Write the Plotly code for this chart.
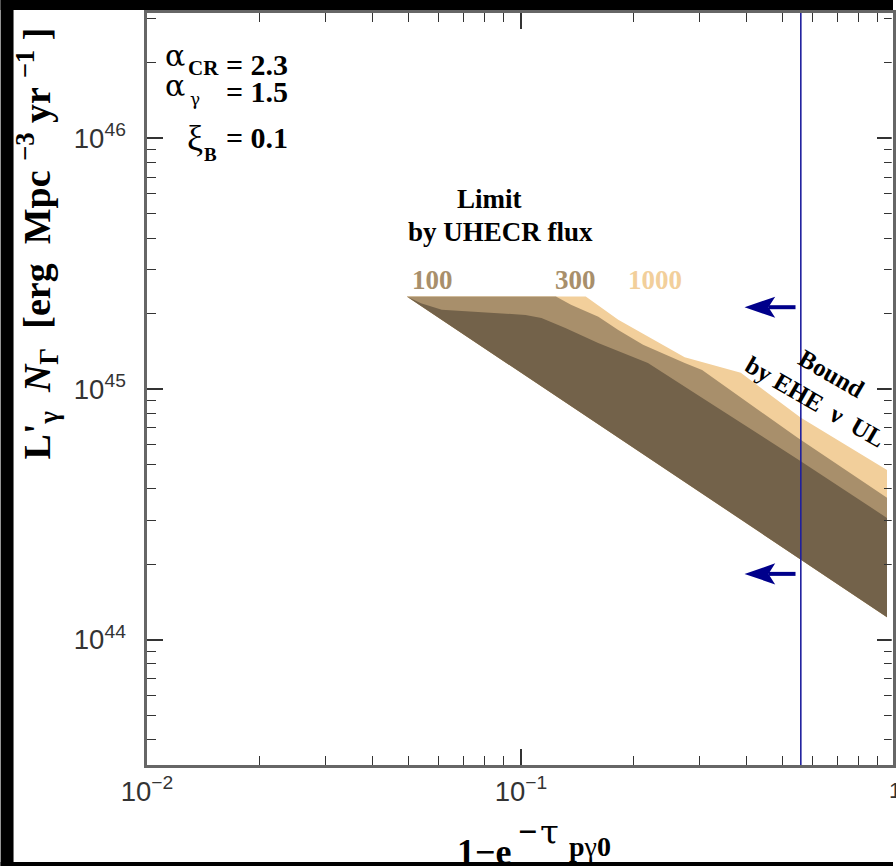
import numpy as np
import plotly.graph_objects as go

# Axis ranges (decades)
x_range_log = [-2.0, -0.00533]
y_range_log = [43.5, 46.5]

# Lower (common) edge of the allowed region
lower_x = [0.0495, 0.952]
lower_y = [2.34e45, 1.23e44]

# Upper edges of the UHECR-flux limit for each case
top_1000_x = [0.0495, 0.149, 0.182, 0.274, 0.387, 0.559, 0.952]
top_1000_y = [2.34e45, 2.34e45, 1.89e45, 1.34e45, 1.16e45, 7.7e44, 4.75e44]

top_300_x = [0.0495, 0.124, 0.136, 0.161, 0.182, 0.212, 0.274, 0.305, 0.548, 0.952]
top_300_y = [2.34e45, 2.34e45, 2.17e45, 1.94e45, 1.72e45, 1.50e45, 1.27e45, 1.19e45, 6.4e44, 3.68e44]

top_100_x = [0.0495, 0.054, 0.0614, 0.1028, 0.1134, 0.1314, 0.1608, 0.2185, 0.3025, 0.5585, 0.952]
top_100_y = [2.34e45, 2.20e45, 2.07e45, 1.975e45, 1.92e45, 1.75e45, 1.527e45, 1.27e45, 9.3e44, 5.16e44, 3.06e44]

band_labels = ["100", "300", "1000"]
band_colors = ["#73624A", "#A88F6B", "#F2CF9B"]
label_colors = ["#A88F6B", "#A88F6B", "#F2CF9B"]

# EHE neutrino upper-limit bound
bound_x = 0.56
arrow_y = [2.12e45, 1.83e44]
arrow_tip_x = 0.396
arrow_tail_x = 0.542

# Model parameters shown in the corner
param_symbols = ["α", "α", "ξ"]
param_subs = ["CR", "γ", "B"]
param_values = ["2.3", "1.5", "0.1"]

fig = go.Figure()


def band(top_x, top_y, color):
    xs = list(top_x) + [lower_x[1], lower_x[0]]
    ys = list(top_y) + [lower_y[1], lower_y[0]]
    fig.add_trace(go.Scatter(x=xs, y=ys, mode="lines", fill="toself",
                             fillcolor=color, line=dict(width=0, color=color),
                             hoverinfo="skip", showlegend=False))


band(top_1000_x, top_1000_y, band_colors[2])
band(top_300_x, top_300_y, band_colors[1])
band(top_100_x, top_100_y, band_colors[0])

fig.add_trace(go.Scatter(x=[bound_x, bound_x], y=[10 ** y_range_log[0], 10 ** y_range_log[1]],
                         mode="lines", line=dict(color="#1F1F9E", width=1.6),
                         hoverinfo="skip", showlegend=False))

# Left-pointing arrows: barbed head plus shaft, built in log space
head_len = 0.082   # decades along x
head_half = 0.042  # decades along y
arrow_color = "#00008B"
for ay in arrow_y:
    lt = np.log10(arrow_tip_x)
    ly = np.log10(ay)
    notch = lt + 0.78 * head_len
    hx = [lt, lt + head_len, notch, lt + head_len, lt]
    hy = [ly, ly + head_half, ly, ly - head_half, ly]
    fig.add_trace(go.Scatter(x=10 ** np.array(hx), y=10 ** np.array(hy), mode="lines",
                             fill="toself", fillcolor=arrow_color,
                             line=dict(width=0, color=arrow_color),
                             hoverinfo="skip", showlegend=False))
    fig.add_trace(go.Scatter(x=[10 ** notch, arrow_tail_x], y=[ay, ay], mode="lines",
                             line=dict(width=4, color=arrow_color),
                             hoverinfo="skip", showlegend=False))

axis_common = dict(
    type="log", showline=True, linecolor="#666", linewidth=2.5, mirror="ticks",
    ticks="inside", ticklen=16, tickwidth=1.6, tickcolor="#333",
    showgrid=False, zeroline=False, dtick=1, exponentformat="power",
    tickfont=dict(family="Liberation Sans, Arial", size=22, color="#333"),
    minor=dict(ticks="inside", ticklen=9, tickwidth=1.4, tickcolor="#333",
               dtick="D1", showgrid=False),
)

fig.update_layout(
    width=896, height=866, autosize=False,
    margin=dict(l=147, r=0, t=13, b=101),
    paper_bgcolor="white", plot_bgcolor="white",
    xaxis=dict(range=x_range_log, ticklabelstandoff=1, **axis_common),
    yaxis=dict(range=y_range_log, ticklabelstandoff=14, **axis_common),
    showlegend=False,
)


def px_x(p):
    return (p - 147) / 749.0


def px_y(p):
    return (765 - p) / 752.0


serif = "Liberation Serif, Times New Roman, serif"
greek = "DejaVu Serif, serif"
ann = []


def text_at(cx, cy, text, size, family=serif, color="black", xanchor="center", **kw):
    ann.append(dict(x=px_x(cx), y=px_y(cy), text=text, xanchor=xanchor, yanchor="middle",
                    font=dict(family=family, size=size, color=color), **kw))


# Parameter block: symbol, subscript, value
sym_pos = [(175, 56, greek, 30), (175, 86, greek, 30), (195, 138, serif, 36)]
sub_pos = [(204, 68, serif, 21, True), (195, 99, greek, 17, False), (211, 154, serif, 19, True)]
val_y = [64, 92, 137]
for i in range(3):
    sx, sy, sf, ss = sym_pos[i]
    text_at(sx, sy, param_symbols[i], ss, family=sf)
    bx, by, bf, bs, bold = sub_pos[i]
    text_at(bx, by, "<b>%s</b>" % param_subs[i] if bold else param_subs[i], bs, family=bf)
    text_at(291, val_y[i], "<b>= %s</b>" % param_values[i], 30, xanchor="right")

# Region labels
text_at(491, 199, "<b>Limit</b>", 27)
text_at(502, 232, "<b>by UHECR flux</b>", 27)
for lab, cx, col in zip(band_labels, [434, 577, 657], label_colors):
    text_at(cx, 280, "<b>%s</b>" % lab, 27, color=col)

text_at(826, 388, "<b>Bound<br>by EHE  ν  UL</b>", 25, textangle=30)

# Axis titles
text_at(37, 243, "<b>L'<sub>γ</sub>  <i>N</i><sub>Γ</sub>  [erg  Mpc <sup>−3</sup> yr <sup>−1</sup> ]</b>",
        38, textangle=-90)
text_at(486, 852, "<b>1−e</b>", 36)
text_at(529, 831, "<b>−</b>", 34)
text_at(551, 832, "τ", 34, family=greek)
text_at(592, 846, "<b>p</b>γ<b>0</b>", 28)
text_at(898, 790, "1", 22, family="Liberation Sans, Arial", color="#333")

for a in ann:
    a.setdefault("xref", "paper")
    a.setdefault("yref", "paper")
    a.setdefault("showarrow", False)
fig.update_layout(annotations=ann)

# Dark frame around the page; the right-hand axis line lies just past the page edge
shapes = []
for x0, x1, y0, y1, col in [
    (894.7, 896, 15, 764, "white"),
    (0, 13, 0, 866, "black"),
    (0, 896, 0, 10, "black"),
    (0, 896, 862, 866, "black"),
]:
    shapes.append(dict(type="rect", xref="paper", yref="paper",
                       x0=px_x(x0), x1=px_x(x1), y0=px_y(y1), y1=px_y(y0),
                       fillcolor=col, line=dict(width=0), layer="above"))
fig.update_layout(shapes=shapes)

fig.write_html("out.html")
